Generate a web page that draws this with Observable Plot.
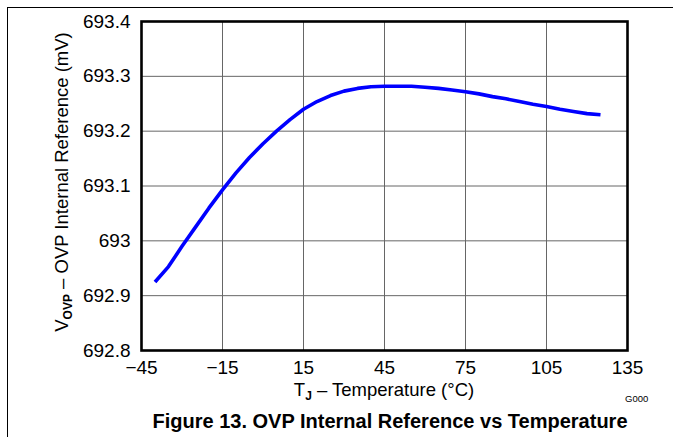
<!DOCTYPE html>
<html>
<head>
<meta charset="utf-8">
<script src="https://cdn.jsdelivr.net/npm/d3@7"></script>
<script src="https://cdn.jsdelivr.net/npm/@observablehq/plot@0.6"></script>
<style>
  html, body { margin: 0; padding: 0; background: #fff; }
  #wrap { position: relative; width: 673px; height: 437px; overflow: hidden; font-family: "Liberation Sans", Arial, Helvetica, sans-serif; }
  #border { position: absolute; left: 7px; top: 7px; width: 680px; height: 440px; border-top: 1.5px solid #000; border-left: 1.5px solid #000; box-sizing: border-box; pointer-events: none; }
  #chart { position: absolute; left: 0; top: 0; }
  #gcode { position: absolute; left: 625px; top: 394px; font-size: 9.5px; line-height: 9px; color: #000; }
  #title { position: absolute; left: 107px; width: 566px; top: 411px; text-align: center; font-size: 20px; line-height: 20px; font-weight: bold; color: #000; white-space: nowrap; }
</style>
</head>
<body>
<div id="wrap">
  <div id="chart"></div>
  <div id="border"></div>
  <div id="gcode">G000</div>
  <div id="title">Figure 13. OVP Internal Reference vs Temperature</div>
</div>
<script>
// Data
const temperature = [-40, -35, -30, -25, -20, -15, -10, -5, 0, 5, 10, 15, 20, 25, 30, 35, 40, 45, 50, 55, 60, 65, 70, 75, 80, 85, 90, 95, 100, 105, 110, 115, 120, 125];
const vref = [692.925, 692.953, 692.990, 693.025, 693.060, 693.093, 693.124, 693.152, 693.177, 693.200, 693.221, 693.240, 693.254, 693.265, 693.273, 693.278, 693.281, 693.282, 693.282, 693.282, 693.280, 693.278, 693.275, 693.272, 693.268, 693.263, 693.259, 693.254, 693.249, 693.245, 693.240, 693.236, 693.232, 693.230];
const xTicks = [-45, -15, 15, 45, 75, 105, 135];
const yTicks = [692.8, 692.9, 693.0, 693.1, 693.2, 693.3, 693.4];

const data = temperature.map((t, i) => ({t, v: vref[i]}));
const fmt = d3.format("");
const yfmt = d => fmt(+d.toFixed(1));

const plot = Plot.plot({
  width: 673,
  height: 410,
  marginLeft: 141,
  marginRight: 46,
  marginTop: 21,
  marginBottom: 60,
  style: {fontFamily: '"Liberation Sans", Arial, Helvetica, sans-serif', fontSize: "19px", color: "#000", background: "transparent"},
  x: {domain: [-45, 135], ticks: xTicks, tickFormat: fmt, label: null},
  y: {domain: [692.8, 693.4], ticks: yTicks, tickFormat: yfmt, label: null},
  marks: [
    Plot.gridX(xTicks, {stroke: "#666", strokeOpacity: 1, strokeWidth: 1}),
    Plot.gridY(yTicks, {stroke: "#666", strokeOpacity: 1, strokeWidth: 1}),
    Plot.axisX(xTicks, {tickSize: 0, tickPadding: 10, tickFormat: fmt, label: null, fontSize: 19}),
    Plot.axisY(yTicks, {tickSize: 0, tickPadding: 11, tickFormat: yfmt, label: null, fontSize: 19}),
    Plot.line(data, {x: "t", y: "v", stroke: "#0000ff", strokeWidth: 3.6, curve: "linear", strokeLinejoin: "round", strokeLinecap: "butt"}),
    Plot.frame({stroke: "#000", strokeWidth: 2.6})
  ]
});
document.getElementById("chart").appendChild(plot);

const svg = d3.select(plot);
// X axis label with subscript
const xl = svg.append("text")
  .attr("x", 384).attr("y", 396)
  .attr("text-anchor", "middle")
  .attr("font-size", 18.5)
  .attr("fill", "#000");
xl.append("tspan").text("T");
xl.append("tspan").attr("font-size", 12).attr("font-weight", "bold").attr("dy", 4).text("J");
xl.append("tspan").attr("dy", -4).text(" – Temperature (°C)");

// Y axis label with subscript
const yl = svg.append("text")
  .attr("transform", "translate(68,182) rotate(-90)")
  .attr("text-anchor", "middle")
  .attr("font-size", 18.5)
  .attr("fill", "#000");
yl.append("tspan").text("V");
yl.append("tspan").attr("font-size", 12).attr("font-weight", "bold").attr("dy", 4).text("OVP");
yl.append("tspan").attr("dy", -4).text(" – OVP Internal Reference (mV)");
</script>
</body>
</html>
